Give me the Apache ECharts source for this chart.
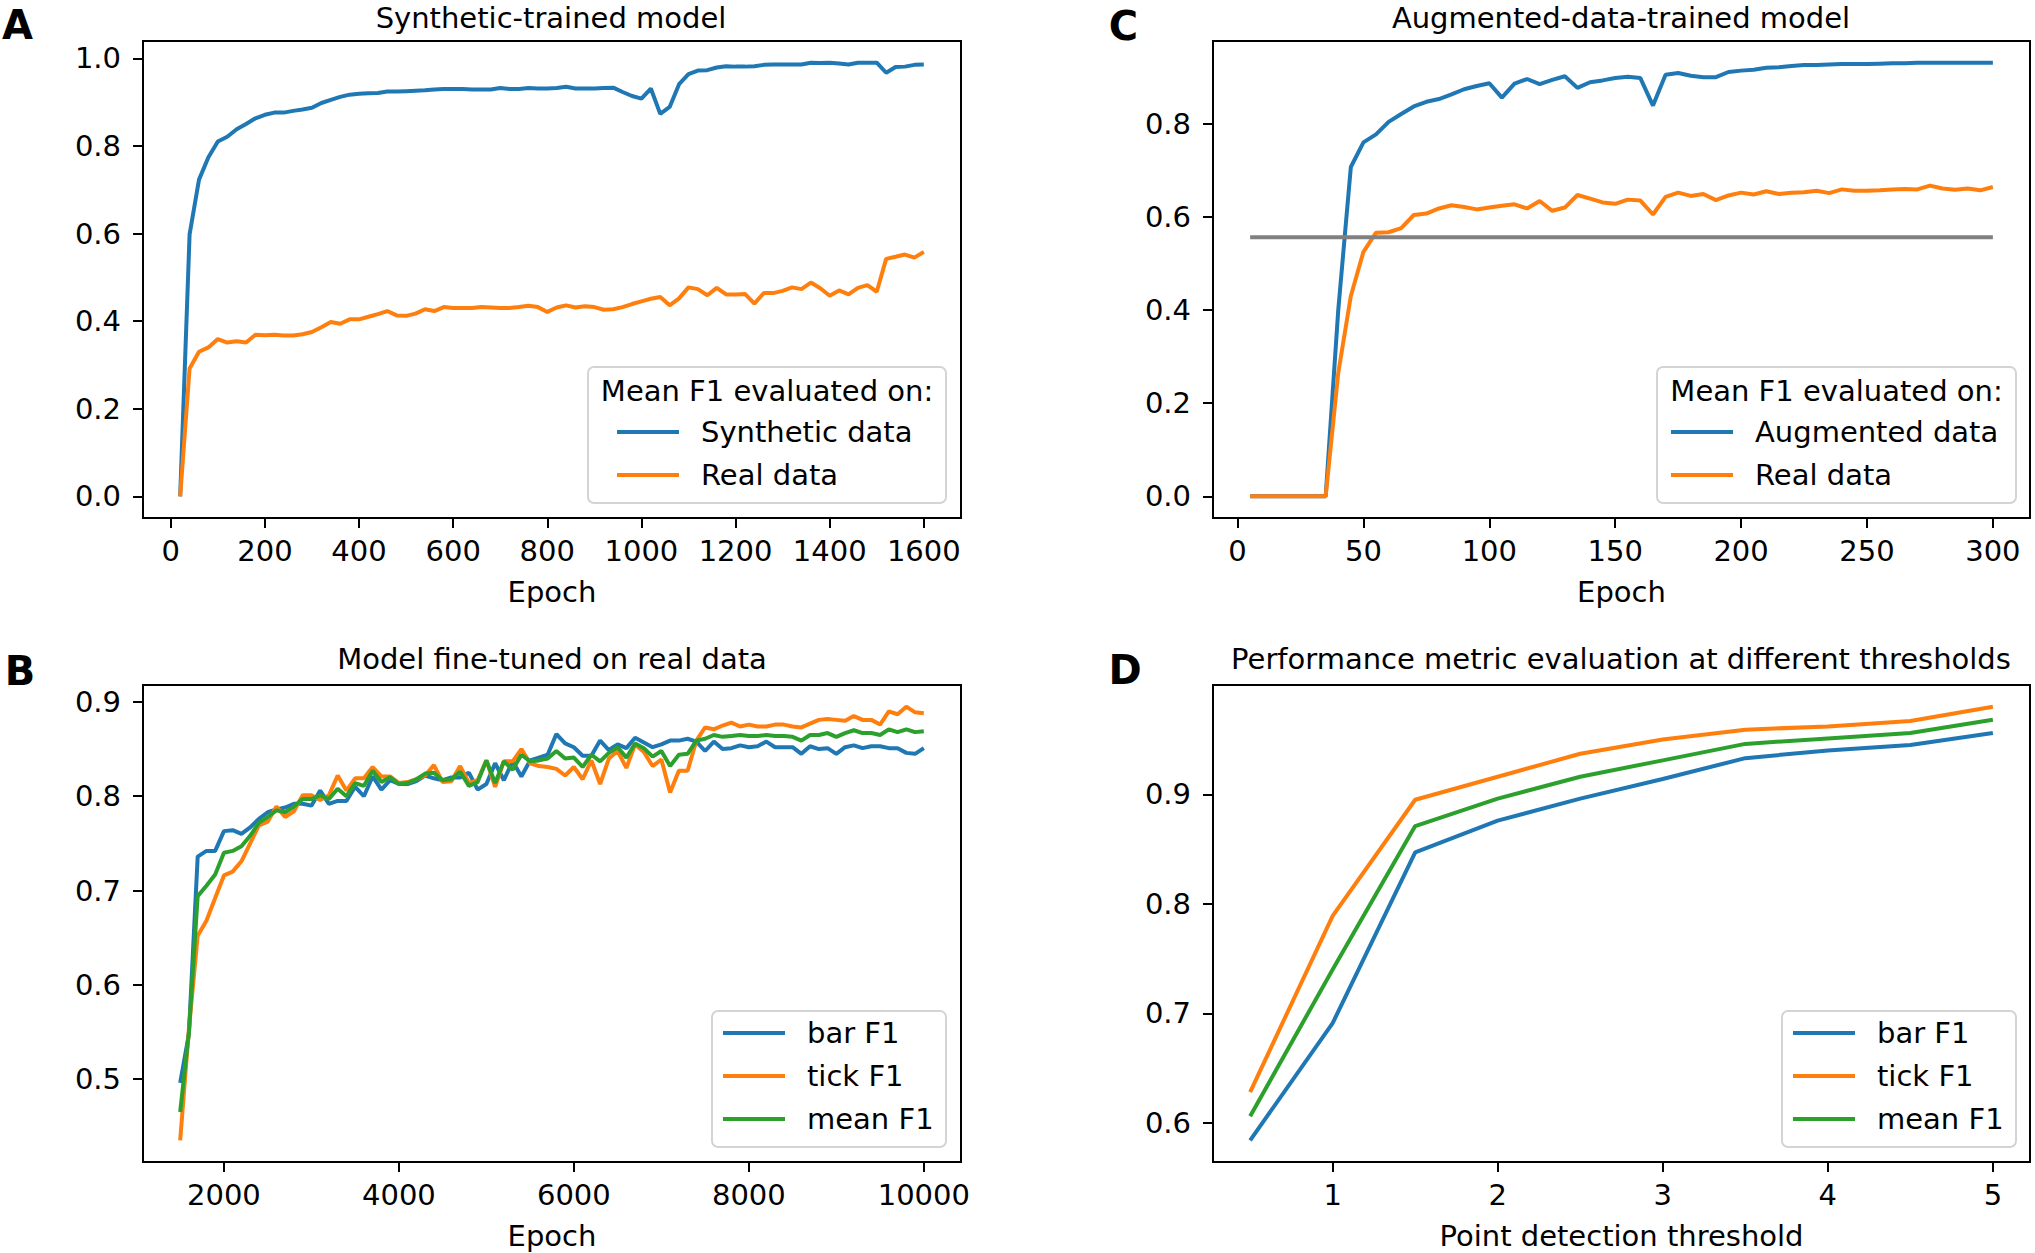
<!DOCTYPE html>
<html>
<head>
<meta charset="utf-8">
<script src="https://cdn.jsdelivr.net/npm/echarts@6/dist/echarts.min.js"></script>
<style>
  html, body { margin: 0; padding: 0; background: #fff; }
  #chart { width: 2035px; height: 1253px; }
</style>
</head>
<body>
<div id="chart"></div>
<script>
// evenly spaced epochs / thresholds
function steps(start, end, step) {
  const out = []
  for (let v = start; v <= end + 1e-9; v += step) out.push(+v.toFixed(3))
  return out
}

// A: synthetic-trained model
const epochsA = steps(20, 1600, 20)
const synthA = [
  0.000, 0.598, 0.723, 0.774, 0.810, 0.821, 0.838, 0.850, 0.863, 0.871,
  0.876, 0.876, 0.880, 0.883, 0.887, 0.898, 0.905, 0.912, 0.917, 0.919,
  0.920, 0.921, 0.924, 0.924, 0.925, 0.926, 0.927, 0.929, 0.930, 0.930,
  0.930, 0.929, 0.929, 0.929, 0.932, 0.930, 0.930, 0.932, 0.931, 0.931,
  0.932, 0.935, 0.931, 0.931, 0.931, 0.932, 0.933, 0.923, 0.914, 0.908,
  0.931, 0.873, 0.889, 0.941, 0.964, 0.972, 0.973, 0.979, 0.982, 0.981,
  0.981, 0.982, 0.985, 0.986, 0.986, 0.986, 0.986, 0.990, 0.989, 0.990,
  0.988, 0.986, 0.990, 0.990, 0.990, 0.967, 0.980, 0.981, 0.985, 0.986,
]
const realA = [
  0.000, 0.292, 0.330, 0.340, 0.359, 0.351, 0.354, 0.351, 0.369, 0.368,
  0.369, 0.367, 0.367, 0.370, 0.375, 0.386, 0.398, 0.394, 0.404, 0.404,
  0.410, 0.416, 0.423, 0.413, 0.412, 0.417, 0.427, 0.423, 0.432, 0.430,
  0.430, 0.430, 0.432, 0.431, 0.430, 0.430, 0.432, 0.435, 0.432, 0.421,
  0.431, 0.436, 0.431, 0.434, 0.432, 0.426, 0.427, 0.432, 0.439, 0.445,
  0.451, 0.455, 0.436, 0.452, 0.477, 0.473, 0.459, 0.476, 0.461, 0.461,
  0.462, 0.440, 0.464, 0.464, 0.469, 0.477, 0.473, 0.488, 0.475, 0.458,
  0.470, 0.461, 0.476, 0.482, 0.467, 0.542, 0.547, 0.552, 0.545, 0.558,
]

// B: fine-tuned on real data
const epochsB = steps(1500, 10000, 100)
const barB = [
  0.496, 0.548, 0.736, 0.742, 0.742, 0.763, 0.764, 0.760, 0.767, 0.776,
  0.783, 0.786, 0.788, 0.792, 0.792, 0.790, 0.806, 0.792, 0.795, 0.795,
  0.810, 0.800, 0.821, 0.807, 0.817, 0.813, 0.813, 0.816, 0.822, 0.819,
  0.817, 0.820, 0.820, 0.825, 0.807, 0.813, 0.835, 0.817, 0.837, 0.821,
  0.838, 0.841, 0.844, 0.866, 0.856, 0.852, 0.843, 0.843, 0.859, 0.849,
  0.855, 0.851, 0.862, 0.857, 0.852, 0.855, 0.859, 0.859, 0.861, 0.858,
  0.848, 0.858, 0.850, 0.851, 0.854, 0.852, 0.853, 0.858, 0.852, 0.852,
  0.852, 0.845, 0.853, 0.850, 0.851, 0.845, 0.852, 0.854, 0.851, 0.853,
  0.853, 0.851, 0.851, 0.846, 0.845, 0.851,
]
const tickB = [
  0.435, 0.553, 0.652, 0.668, 0.692, 0.716, 0.720, 0.731, 0.750, 0.769,
  0.773, 0.789, 0.778, 0.784, 0.801, 0.801, 0.796, 0.801, 0.822, 0.806,
  0.819, 0.819, 0.831, 0.821, 0.821, 0.814, 0.815, 0.818, 0.822, 0.833,
  0.815, 0.816, 0.832, 0.814, 0.817, 0.838, 0.810, 0.837, 0.837, 0.850,
  0.835, 0.832, 0.831, 0.829, 0.822, 0.831, 0.818, 0.838, 0.813, 0.840,
  0.848, 0.830, 0.855, 0.847, 0.832, 0.839, 0.804, 0.827, 0.827, 0.859,
  0.873, 0.871, 0.875, 0.878, 0.874, 0.876, 0.874, 0.874, 0.876, 0.876,
  0.874, 0.873, 0.877, 0.881, 0.882, 0.881, 0.880, 0.885, 0.881, 0.881,
  0.876, 0.890, 0.887, 0.895, 0.889, 0.888,
]
const meanB = [
  0.465, 0.550, 0.694, 0.705, 0.717, 0.740, 0.742, 0.747, 0.758, 0.772,
  0.778, 0.785, 0.783, 0.789, 0.797, 0.797, 0.801, 0.797, 0.808, 0.800,
  0.814, 0.811, 0.827, 0.815, 0.820, 0.813, 0.814, 0.818, 0.824, 0.825,
  0.817, 0.818, 0.826, 0.811, 0.815, 0.838, 0.814, 0.837, 0.828, 0.844,
  0.837, 0.838, 0.840, 0.848, 0.840, 0.841, 0.831, 0.844, 0.837, 0.846,
  0.852, 0.841, 0.856, 0.851, 0.842, 0.848, 0.832, 0.844, 0.845, 0.859,
  0.861, 0.865, 0.863, 0.864, 0.865, 0.864, 0.864, 0.865, 0.864, 0.864,
  0.863, 0.859, 0.865, 0.865, 0.867, 0.863, 0.867, 0.870, 0.867, 0.867,
  0.865, 0.871, 0.868, 0.871, 0.868, 0.869,
]

// C: augmented-data-trained model
const epochsC = steps(5, 300, 5)
const augC = [
  0.000, 0.000, 0.000, 0.000, 0.000, 0.000, 0.000, 0.400, 0.707, 0.760,
  0.777, 0.804, 0.821, 0.837, 0.847, 0.853, 0.863, 0.874, 0.881, 0.887,
  0.856, 0.886, 0.896, 0.885, 0.894, 0.902, 0.877, 0.889, 0.893, 0.898,
  0.901, 0.898, 0.839, 0.905, 0.909, 0.903, 0.900, 0.900, 0.911, 0.914,
  0.916, 0.920, 0.921, 0.924, 0.926, 0.926, 0.927, 0.928, 0.928, 0.928,
  0.929, 0.930, 0.930, 0.931, 0.931, 0.931, 0.931, 0.931, 0.931, 0.931,
]
const realC = [
  0.000, 0.000, 0.000, 0.000, 0.000, 0.000, 0.000, 0.265, 0.430, 0.525,
  0.566, 0.567, 0.576, 0.604, 0.607, 0.618, 0.625, 0.621, 0.616, 0.620,
  0.624, 0.627, 0.618, 0.634, 0.613, 0.620, 0.647, 0.639, 0.631, 0.628,
  0.637, 0.635, 0.605, 0.643, 0.652, 0.645, 0.649, 0.636, 0.646, 0.652,
  0.648, 0.655, 0.649, 0.652, 0.653, 0.656, 0.651, 0.659, 0.656, 0.656,
  0.657, 0.659, 0.660, 0.659, 0.667, 0.661, 0.658, 0.661, 0.657, 0.664,
]
const baselineX = [5, 300]
const baselineC = [0.556, 0.556]

// D: threshold sweep
const thresholdsD = steps(0.5, 5, 0.5)
const barD = [0.584, 0.691, 0.847, 0.876, 0.896, 0.914, 0.933, 0.940, 0.945, 0.956]
const tickD = [0.628, 0.789, 0.895, 0.916, 0.937, 0.950, 0.959, 0.962, 0.967, 0.980]
const meanD = [0.606, 0.740, 0.871, 0.896, 0.916, 0.931, 0.946, 0.951, 0.956, 0.968]

// tick labels
const xTicksA = [0, 200, 400, 600, 800, 1000, 1200, 1400, 1600]
const yTicksA = [0, 0.2, 0.4, 0.6, 0.8, 1.0]
const xTicksB = [2000, 4000, 6000, 8000, 10000]
const yTicksB = [0.5, 0.6, 0.7, 0.8, 0.9]
const xTicksC = [0, 50, 100, 150, 200, 250, 300]
const yTicksC = [0, 0.2, 0.4, 0.6, 0.8]
const xTicksD = [1, 2, 3, 4, 5]
const yTicksD = [0.6, 0.7, 0.8, 0.9]

const FONT = 'DejaVu Sans'
const FS = 29
const BLUE = '#1f77b4', ORANGE = '#ff7f0e', GREEN = '#2ca02c', GRAY = '#808080'

function xAxis(grid, min, max, ticks, name) {
  return {
    type: 'value', gridIndex: grid, min: min, max: max, position: 'bottom',
    name: name, nameLocation: 'middle', nameGap: 59,
    nameTextStyle: { fontFamily: FONT, fontSize: FS, color: '#000' },
    axisLine: { show: true, onZero: false, lineStyle: { color: '#000', width: 2 } },
    axisTick: { show: true, length: 10, customValues: ticks, lineStyle: { color: '#000', width: 2 } },
    axisLabel: {
      customValues: ticks, margin: 18, fontFamily: FONT, fontSize: FS, color: '#000',
      formatter: function (v) { return String(v) },
    },
    splitLine: { show: false },
  }
}

function yAxis(grid, min, max, ticks) {
  return {
    type: 'value', gridIndex: grid, min: min, max: max, position: 'left',
    axisLine: { show: true, onZero: false, lineStyle: { color: '#000', width: 2 } },
    axisTick: { show: true, length: 10, customValues: ticks, lineStyle: { color: '#000', width: 2 } },
    axisLabel: {
      customValues: ticks, margin: 22, fontFamily: FONT, fontSize: FS, color: '#000',
      formatter: function (v) { return v.toFixed(1) },
    },
    splitLine: { show: false },
  }
}

function line(name, grid, xs, ys, color) {
  return {
    type: 'line', name: name, xAxisIndex: grid, yAxisIndex: grid,
    data: xs.map(function (x, i) { return [x, ys[i]] }),
    showSymbol: false, symbol: 'none',
    lineStyle: { color: color, width: 4 }, itemStyle: { color: color },
    emphasis: { disabled: true }, animation: false,
  }
}

function legend(names, left, top) {
  return {
    data: names, orient: 'vertical', left: left, top: top, padding: 0,
    icon: 'rect', itemWidth: 62, itemHeight: 4, itemGap: 13,
    selectedMode: false,
    textStyle: { fontFamily: FONT, fontSize: FS, color: '#000', lineHeight: 30, padding: [0, 0, 0, 17] },
  }
}

function label(text, x, y, opts) {
  return {
    type: 'text', x: x, y: y, z: 5,
    style: Object.assign({
      text: text, fontFamily: FONT, fontSize: FS, lineHeight: 28, fill: '#000',
      align: 'center', verticalAlign: 'middle',
    }, opts || {}),
  }
}

function legendBox(x, y, w, h) {
  return {
    type: 'rect', z: 3,
    shape: { x: x, y: y, width: w, height: h, r: 6 },
    style: { fill: 'rgba(255,255,255,0.8)', stroke: '#d4d4d4', lineWidth: 2 },
  }
}

const option = {
  backgroundColor: '#fff',
  animation: false,
  grid: [
    { left: 143, top: 41, width: 818, height: 477 },
    { left: 143, top: 685, width: 818, height: 477 },
    { left: 1213, top: 41, width: 817, height: 477 },
    { left: 1213, top: 685, width: 817, height: 477 },
  ].map(function (g) {
    return Object.assign(g, { show: true, borderColor: '#000', borderWidth: 2, backgroundColor: 'transparent', containLabel: false })
  }),
  xAxis: [
    xAxis(0, -59, 1679, xTicksA, 'Epoch'),
    xAxis(1, 1075, 10425, xTicksB, 'Epoch'),
    xAxis(2, -9.75, 314.75, xTicksC, 'Epoch'),
    xAxis(3, 0.275, 5.225, xTicksD, 'Point detection threshold'),
  ],
  yAxis: [
    yAxis(0, -0.0495, 1.0395, yTicksA),
    yAxis(1, 0.412, 0.918, yTicksB),
    yAxis(2, -0.0466, 0.9776, yTicksC),
    yAxis(3, 0.5642, 0.9998, yTicksD),
  ],
  legend: [
    legend(['Synthetic data', 'Real data'], 617, 417),
    legend(['bar F1', 'tick F1', 'mean F1'], 723, 1018),
    legend(['Augmented data', 'Real data'], 1671, 417),
    legend(['bar F1', 'tick F1', 'mean F1'], 1793, 1018),
  ],
  graphic: [
    label('A', 17.5, 24.5, { fontSize: 40, lineHeight: 40, fontWeight: 'bold' }),
    label('B', 20, 671, { fontSize: 40, lineHeight: 40, fontWeight: 'bold' }),
    label('C', 1123.5, 26, { fontSize: 40, lineHeight: 40, fontWeight: 'bold' }),
    label('D', 1125, 670, { fontSize: 40, lineHeight: 40, fontWeight: 'bold' }),
    label('Synthetic-trained model', 551, 18),
    label('Model fine-tuned on real data', 552, 659),
    label('Augmented-data-trained model', 1621, 18),
    label('Performance metric evaluation at different thresholds', 1621, 659),
    legendBox(588, 367, 358, 136),
    label('Mean F1 evaluated on:', 767, 391),
    legendBox(1657, 367, 359, 136),
    label('Mean F1 evaluated on:', 1836.5, 391),
    legendBox(712, 1011, 234, 136),
    legendBox(1782, 1011, 234, 136),
  ],
  series: [
    line('Synthetic data', 0, epochsA, synthA, BLUE),
    line('Real data', 0, epochsA, realA, ORANGE),
    line('bar F1', 1, epochsB, barB, BLUE),
    line('tick F1', 1, epochsB, tickB, ORANGE),
    line('mean F1', 1, epochsB, meanB, GREEN),
    line('Augmented data', 2, epochsC, augC, BLUE),
    line('Real data', 2, epochsC, realC, ORANGE),
    line('baseline', 2, baselineX, baselineC, GRAY),
    line('bar F1', 3, thresholdsD, barD, BLUE),
    line('tick F1', 3, thresholdsD, tickD, ORANGE),
    line('mean F1', 3, thresholdsD, meanD, GREEN),
  ],
}

const chart = echarts.init(document.getElementById('chart'), null, { renderer: 'svg' })
chart.setOption(option)
</script>
</body>
</html>
